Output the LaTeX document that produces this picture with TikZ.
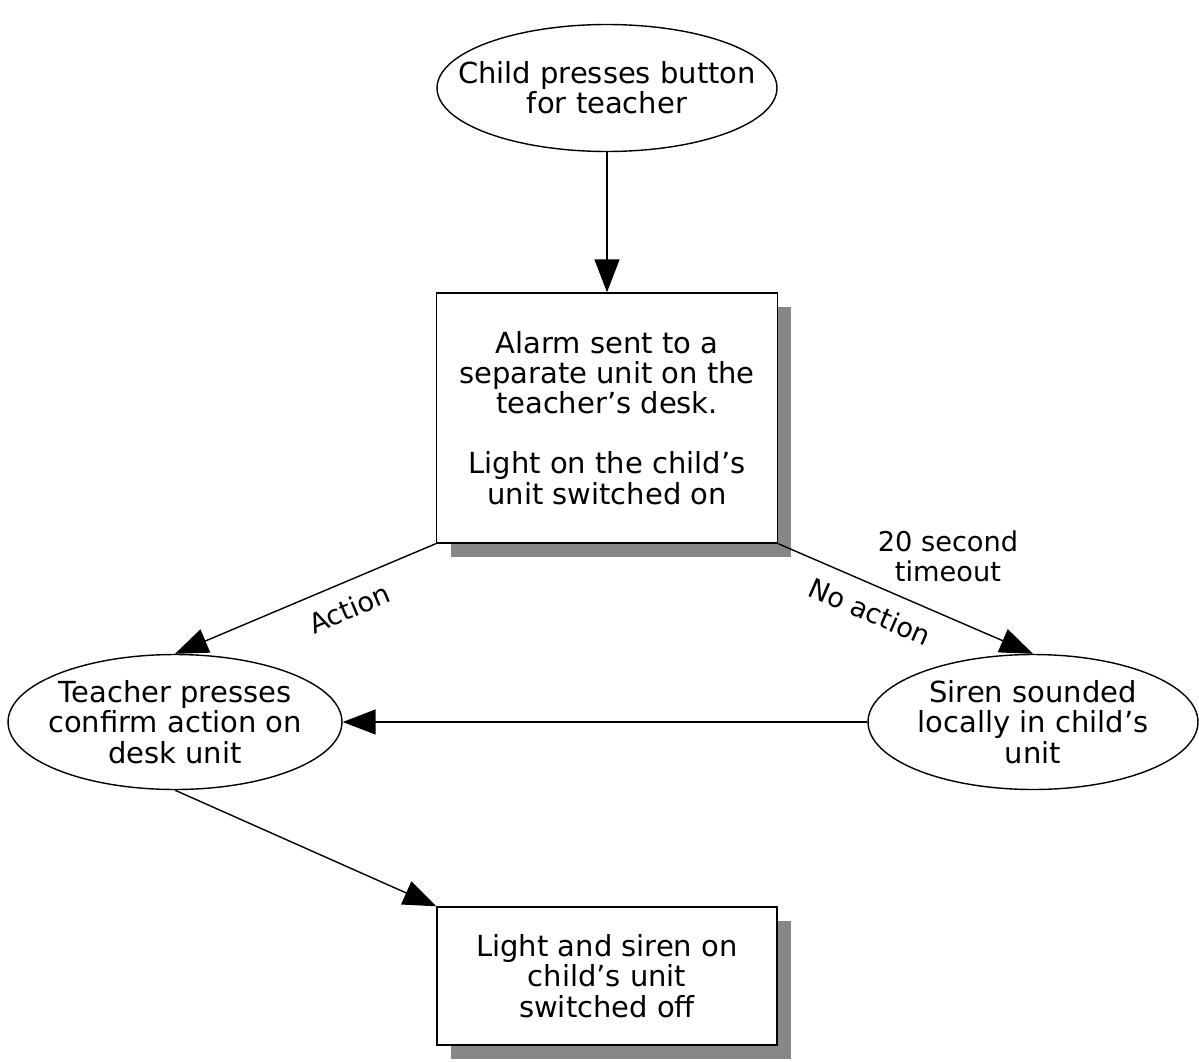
\documentclass[tikz,border=0pt]{standalone}
\usepackage{fontspec}
\setmainfont{DejaVu Sans}
\usetikzlibrary{shapes.geometric,shadows,arrows.meta}

\tikzset{
  txt/.style={font=\fontsize{16.5}{17.2}\selectfont, align=center},
  oval/.style={ellipse, draw, thick, txt, inner xsep=-0.7cm, inner ysep=0pt},
  kasten/.style={rectangle, draw, thick, fill=white, txt,
    drop shadow={shadow xshift=0.28cm, shadow yshift=-0.28cm, fill=black!47, opacity=1}},
  pfeil/.style={thick, -{Triangle[length=0.66cm, width=0.5cm]}},
  beschr/.style={font=\fontsize{15.5}{17}\selectfont, align=center}
}

\begin{document}
\begin{tikzpicture}[x=0.02cm, y=-0.02cm]
    % Rahmen
    \useasboundingbox (0,0) rectangle (1199,1061);

    % Knoten
    \node [oval, minimum width=6.8cm, minimum height=2.54cm] (child) at (607,88)
        {Child presses button\\for teacher};
    \node [kasten, minimum width=6.82cm, minimum height=5cm] (alarm) at (607,418)
        {Alarm sent to a\\separate unit on the\\teacher's desk.\\[17pt]Light on the child's\\unit switched on};
    \node [oval, minimum width=6.68cm, minimum height=2.7cm] (teach) at (175,722)
        {Teacher presses\\confirm action on\\desk unit};
    \node [oval, minimum width=6.6cm, minimum height=2.7cm] (siren) at (1033,722)
        {Siren sounded\\locally in child's\\unit};
    \node [kasten, minimum width=6.8cm, minimum height=2.76cm] (off) at (607,976)
        {Light and siren on\\child's unit\\switched off};

    % Verbindungen
    \draw [pfeil] (child.south) -- (alarm.north);
    \draw [pfeil] (alarm.south west) -- node [beschr, pos=0.37, sloped, below=5pt] {Action} (teach.north);
    \draw [pfeil] (alarm.south east) -- node [beschr, pos=0.4, sloped, below=5pt] {No action} (siren.north);
    \draw [pfeil] (siren.west) -- (teach.east);
    \draw [pfeil] (teach.south) -- (off.north west);

    % Zeitangabe
    \node [beschr] (zeit) at (948,556) {20 second\\timeout};
\end{tikzpicture}
\end{document}
